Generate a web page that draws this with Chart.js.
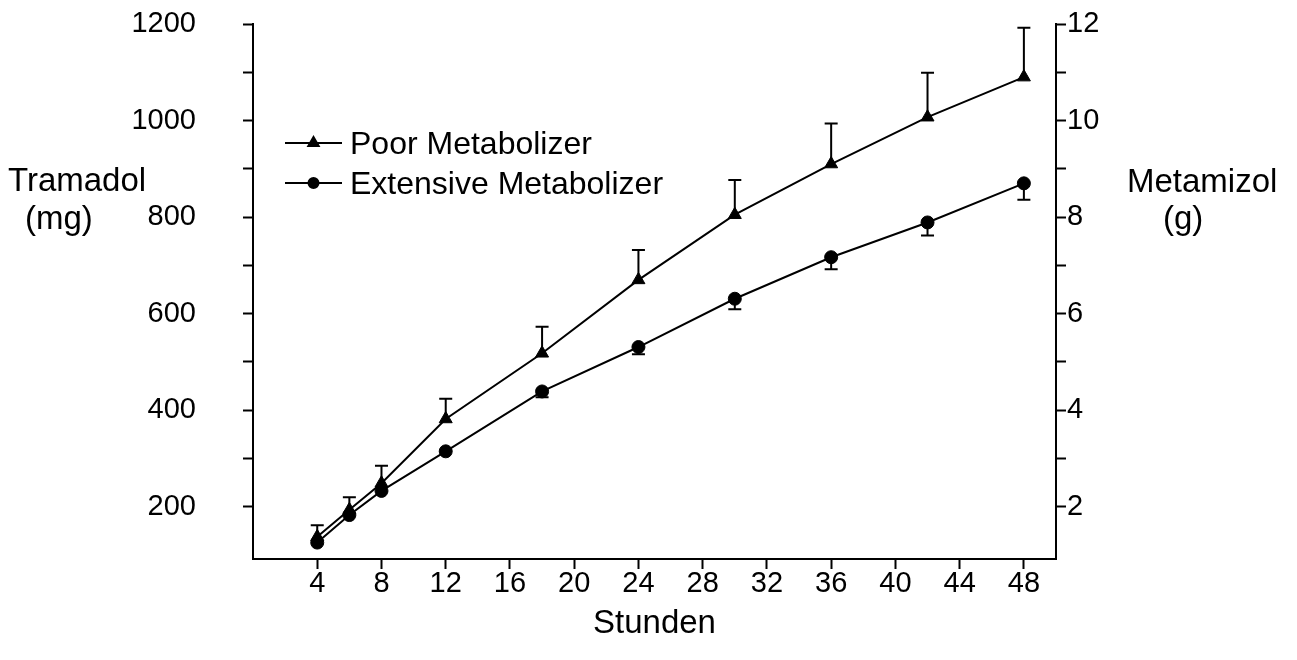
<!DOCTYPE html>
<html>
<head>
<meta charset="utf-8">
<script src="https://cdn.jsdelivr.net/npm/chart.js@4.4.1/dist/chart.umd.min.js"></script>
<style>
  html, body { margin: 0; padding: 0; background: #fff; }
  #wrap { width: 1297px; height: 660px; position: relative; }
</style>
</head>
<body>
<div id="wrap"><canvas id="c" width="1297" height="660"></canvas></div>
<script>
// ---- data ----
const hours = [4, 6, 8, 12, 18, 24, 30, 36, 42, 48];
const poorMean = [138, 194, 249, 382, 518, 670, 805, 910, 1007, 1090];
const poorSD = [24, 26, 36, 42, 55, 62, 72, 84, 92, 102];
const extMean = [126, 183, 233, 315, 439, 531, 631, 717, 789, 870];
const extSD = [0, 0, 0, 0, 12, 15, 22, 25, 27, 34];
const xTicks = [4, 8, 12, 16, 20, 24, 28, 32, 36, 40, 44, 48];
const leftTicks = [200, 300, 400, 500, 600, 700, 800, 900, 1000, 1100, 1200];
const rightTicks = [2, 3, 4, 5, 6, 7, 8, 9, 10, 11, 12];
const seriesNames = ['Poor Metabolizer', 'Extensive Metabolizer'];
const xTitle = 'Stunden';
const leftTitle = ['Tramadol', '(mg)'];
const rightTitle = ['Metamizol', '(g)'];

const FONT = '"Liberation Sans", Arial, Helvetica, sans-serif';
Chart.defaults.font.family = FONT;
Chart.defaults.color = '#000';

const toPts = (xs, ys) => xs.map((x, i) => ({ x: x, y: ys[i] }));

const errorBars = {
  id: 'errorBars',
  beforeDatasetsDraw(chart) {
    const ctx = chart.ctx, xs = chart.scales.x, ys = chart.scales.y;
    ctx.save();
    ctx.strokeStyle = '#000';
    ctx.lineWidth = 2;
    const cap = 6.5;
    const draw = (means, sds, dir) => {
      hours.forEach((h, i) => {
        if (!sds[i]) return;
        const px = xs.getPixelForValue(h);
        const p0 = ys.getPixelForValue(means[i]);
        const p1 = ys.getPixelForValue(means[i] + dir * sds[i]);
        ctx.beginPath();
        ctx.moveTo(px, p0); ctx.lineTo(px, p1);
        ctx.moveTo(px - cap, p1); ctx.lineTo(px + cap, p1);
        ctx.stroke();
      });
    };
    draw(poorMean, poorSD, 1);
    draw(extMean, extSD, -1);
    ctx.restore();
  }
};

const annotations = {
  id: 'annotations',
  afterDraw(chart) {
    const ctx = chart.ctx, a = chart.chartArea;
    ctx.save();
    ctx.fillStyle = '#000';
    ctx.strokeStyle = '#000';
    // legend
    ctx.font = '32px ' + FONT;
    ctx.textAlign = 'left';
    ctx.textBaseline = 'alphabetic';
    const lx0 = 285, lx1 = 342;
    const rows = [{ y: 143, style: 'triangle', r: 6 }, { y: 183, style: 'circle', r: 5 }];
    rows.forEach((row, i) => {
      ctx.lineWidth = 2;
      ctx.beginPath(); ctx.moveTo(lx0, row.y); ctx.lineTo(lx1, row.y); ctx.stroke();
      Chart.helpers.drawPoint(ctx, { pointStyle: row.style, radius: row.r, borderWidth: 1 }, (lx0 + lx1) / 2, row.y);
      ctx.fillText(seriesNames[i], lx1 + 8, row.y + 11);
    });
    // axis titles
    ctx.font = '33px ' + FONT;
    ctx.fillText(leftTitle[0], 8, 191);
    ctx.fillText(leftTitle[1], 25, 229);
    ctx.fillText(rightTitle[0], 1127, 192);
    ctx.fillText(rightTitle[1], 1163, 229);
    ctx.textAlign = 'center';
    ctx.fillText(xTitle, (a.left + a.right) / 2, 633);
    ctx.restore();
  }
};

const axisBase = {
  border: { display: true, color: '#000', width: 2 },
  grid: { display: true, drawOnChartArea: false, drawTicks: true, tickLength: 10, tickColor: '#000', tickWidth: 2 },
};

function zeroPad(s) { s.paddingTop = 0; s.paddingBottom = 0; s.paddingLeft = 0; s.paddingRight = 0; }

new Chart(document.getElementById('c'), {
  type: 'line',
  data: {
    datasets: [
      {
        label: seriesNames[0],
        data: toPts(hours, poorMean),
        borderColor: '#000', backgroundColor: '#000', borderWidth: 2,
        pointStyle: 'triangle', pointRadius: 7.5, pointBorderWidth: 1,
        tension: 0, yAxisID: 'y'
      },
      {
        label: seriesNames[1],
        data: toPts(hours, extMean),
        borderColor: '#000', backgroundColor: '#000', borderWidth: 2,
        pointStyle: 'circle', pointRadius: 6.5, pointBorderWidth: 1,
        tension: 0, yAxisID: 'y'
      }
    ]
  },
  options: {
    responsive: false,
    animation: false,
    events: [],
    layout: { padding: { top: 24, left: 0, right: 0, bottom: 0 } },
    plugins: { legend: { display: false }, tooltip: { enabled: false } },
    scales: {
      x: {
        ...axisBase,
        type: 'linear', position: 'bottom', min: 0, max: 50,
        afterBuildTicks(s) { s.ticks = xTicks.map(v => ({ value: v })); },
        afterFit(s) { s.height = 101; zeroPad(s); },
        ticks: { font: { size: 29 }, padding: -2, color: '#000', maxRotation: 0, autoSkip: false }
      },
      y: {
        ...axisBase,
        type: 'linear', position: 'left', min: 92, max: 1200,
        afterBuildTicks(s) { s.ticks = leftTicks.map(v => ({ value: v })); },
        afterFit(s) { s.width = 253; zeroPad(s); },
        ticks: { font: { size: 29 }, padding: 47, color: '#000', autoSkip: false,
          callback: v => (v % 200 === 0 ? String(v) : '') }
      },
      y2: {
        ...axisBase,
        type: 'linear', position: 'right', min: 0.92, max: 12,
        afterBuildTicks(s) { s.ticks = rightTicks.map(v => ({ value: v })); },
        afterFit(s) { s.width = 241; zeroPad(s); },
        ticks: { font: { size: 29 }, padding: 1, color: '#000', autoSkip: false,
          callback: v => (v % 2 === 0 ? String(v) : '') }
      }
    }
  },
  plugins: [errorBars, annotations]
});
</script>
</body>
</html>
